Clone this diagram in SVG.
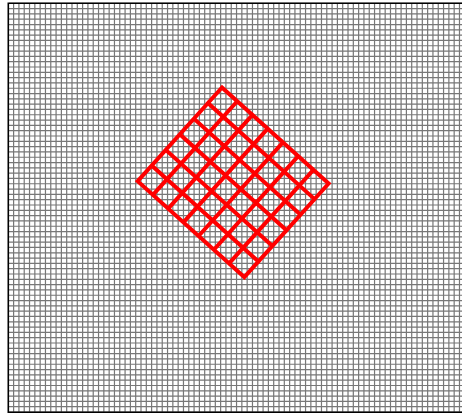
<svg xmlns="http://www.w3.org/2000/svg" width="462" height="415" viewBox="0 0 462 415">
<style>
.bg{fill:none;stroke:#777;stroke-width:409;stroke-dasharray:1.2 4.108}
.bgh{fill:none;stroke:#777;stroke-width:460;stroke-dasharray:1.2 4.108}
.border{fill:none;stroke:#000;stroke-width:1.6}
.red{fill:none;stroke:#ff0000;stroke-width:4;stroke-linecap:square}
</style>
<rect x="0" y="0" width="462" height="415" fill="#fff"/>
<g id="background-grid">
<path class="bg" d="M7.7 207.65H462"/>
<path class="bgh" d="M239 2.7V412.6"/>
<rect x="0" y="412.6" width="462" height="3" fill="#fff"/>
<rect x="0" y="0" width="8" height="415" fill="#fff"/>
<path class="border" d="M8.3 413V3.3H462 M8.3 412.2H462"/>
</g>
<g id="red-grid" transform="translate(222,87.5) rotate(42)">
<path class="red" d="M0 0V126 M20.5 0V126 M41 0V126 M61.5 0V126 M82 0V126 M102.5 0V126 M123 0V126 M143.5 0V126 M0 0H143.5 M0 21H143.5 M0 42H143.5 M0 63H143.5 M0 84H143.5 M0 105H143.5 M0 126H143.5"/>
</g>
</svg>
